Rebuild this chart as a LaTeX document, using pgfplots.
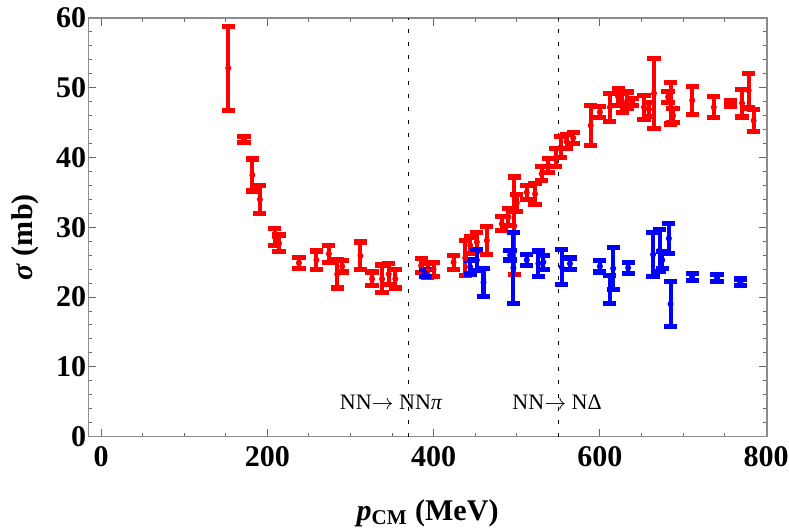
\documentclass[border=0pt]{standalone}
\usepackage{pgfplots}
\pgfplotsset{compat=1.18}
\usepackage{pgfplotstable}
\usepackage{fontspec}
\setmainfont{Liberation Serif}
\usetikzlibrary{calc}

\pgfplotstableread{
x y e
153 52.8 6.0
172 42.6 0.4
182 37.5 2.3
191 34.0 2.0
209 28.6 1.2
214 27.7 1.2
238 24.9 0.8
259 25.3 1.3
274 26.2 1.2
284 23.3 2.0
290 24.4 0.8
312 25.9 2.0
326 22.6 1.0
338 22.6 2.0
346 23.3 1.5
354 22.6 1.3
385 24.5 1.0
393 23.8 1.0
400 24.0 1.0
424 25.0 1.0
438 25.6 2.5
444 27.4 1.2
452 27.9 1.3
464 28.1 2.0
482 30.5 1.0
490 31.5 1.2
497 30.2 7.0
500 33.5 1.2
512 35.0 1.0
522 34.8 1.5
530 37.7 1.0
538 38.9 1.0
547 40.0 1.3
553 41.5 1.5
560 42.3 1.0
568 42.8 0.8
589 44.6 2.9
600 46.5 0.8
612 47.2 2.0
622 48.7 1.2
627 47.8 1.4
633 48.2 1.2
639 48.0 0.5
653 47.2 1.7
659 46.9 1.0
665 49.2 5.0
682 48.7 0.8
685 47.8 3.0
688 46.0 1.0
711 48.2 2.0
737 47.2 1.5
757 47.8 0.4
771 47.8 2.0
779 49.6 2.5
785 45.3 1.6
}\reddata

\pgfplotstableread{
x y e
390 23.4 0.5
444 24.3 1.0
452 25.3 1.5
460 22.1 2.0
492 26.0 0.7
496 24.2 5.1
512 25.3 0.8
526 24.8 1.8
532 25.0 1.0
554 24.3 2.5
564 24.8 0.8
600 24.4 0.8
612 21.1 2.0
616 24.1 3.0
634 24.2 0.8
664 26.1 3.2
672 26.7 3.0
675 25.3 1.2
683 28.4 2.1
685 19.0 3.2
711 22.9 0.5
741 22.7 0.5
769 22.1 0.5
}\bluedata

\begin{document}
\begin{tikzpicture}
\begin{axis}[name=ax, scale only axis, width=339pt, height=209pt,
  xmin=-15.6, xmax=801, ymin=0, ymax=60,
  xtick={0,200,...,800}, minor x tick num=3,
  ytick={0,10,...,60}, minor y tick num=4,
  tick align=inside,
  major tick length=4pt, minor tick length=2pt,
  tick style={black!60, line width=0.5pt},
  axis line style={black!45, line width=0.6pt},
  /pgf/number format/assume math mode=true,
  ticklabel style={font=\fontsize{15}{15}\selectfont\bfseries},
  xticklabel style={yshift=-1.5pt},
  yticklabel style={xshift=2.5pt},
  xlabel={\textbf{\textit{p}}\textsubscript{\textbf{CM}}\textbf{ (MeV)}},
  ylabel={\textbf{\textit{σ} (mb)}},
  label style={font=\fontsize{15}{15}\selectfont},
  xlabel style={at={(axis description cs:0.5,0)},anchor=base,yshift=-42pt},
  ylabel style={at={(axis description cs:-0.093,0.476)},anchor=center,rotate=0},
]
\addplot[black, line width=0.75pt, dash pattern=on 2pt off 4.5pt] coordinates {(370,0) (370,60)};
\addplot[black, line width=0.75pt, dash pattern=on 2pt off 4.5pt] coordinates {(550,0) (550,60)};

\addplot[only marks, color=red, mark=*, mark size=1.3pt,
  error bars/.cd, y dir=both, y explicit, error mark=-,
  error bar style={line width=2pt, red},
  error mark options={rotate=90, mark size=3.3pt, line width=2.6pt, red}]
  table[x=x, y=y, y error=e]{\reddata};
\addplot[only marks, color=blue, mark=*, mark size=1.3pt,
  error bars/.cd, y dir=both, y explicit, error mark=-,
  error bar style={line width=2pt, blue},
  error mark options={rotate=90, mark size=3.3pt, line width=2.6pt, blue}]
  table[x=x, y=y, y error=e]{\bluedata};

\node[font=\fontsize{11}{11}\selectfont] at (axis cs:349,4.9) {NN$\rightarrow$ NN\textit{π}};
\node[font=\fontsize{11}{11}\selectfont] at (axis cs:548.6,4.9) {NN$\rightarrow$ NΔ};
\end{axis}
\pgfresetboundingbox
\path ($(ax.south west)+(-44pt,-47pt)$) rectangle ($(ax.north east)+(11pt,9pt)$);
\end{tikzpicture}
\end{document}
